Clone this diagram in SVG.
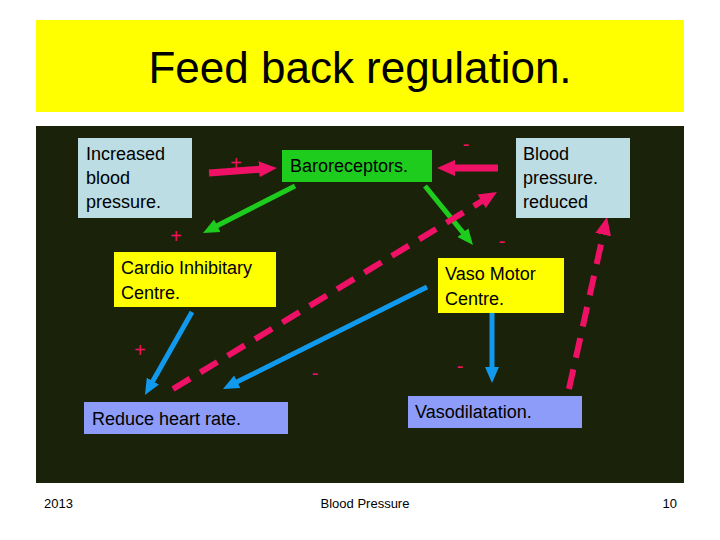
<svg xmlns="http://www.w3.org/2000/svg" width="720" height="540" viewBox="0 0 720 540">
<style>
.t{font-family:"Liberation Sans",Arial,sans-serif;font-size:18px;fill:#000}
.sm{font-family:"Liberation Sans",Arial,sans-serif;font-size:13px;fill:#000}
.sign{font-family:"Liberation Sans",Arial,sans-serif;font-size:20px;fill:#ee1166}
.pk{stroke:#ee1166;stroke-width:6;fill:none}
.dash{stroke-dasharray:20 12}
.gr{stroke:#1ecc1e;stroke-width:5;fill:none}
.bl{stroke:#1199ee;stroke-width:5;fill:none}
</style>
<defs>
<marker id="mp" markerUnits="userSpaceOnUse" markerWidth="18" markerHeight="18" refX="4" refY="9" orient="auto"><path d="M0,1 L18,9 L0,17 z" fill="#ee1166"/></marker>
<marker id="mg" markerUnits="userSpaceOnUse" markerWidth="16" markerHeight="16" refX="4" refY="8" orient="auto"><path d="M0,1 L16,8 L0,15 z" fill="#1ecc1e"/></marker>
<marker id="mb" markerUnits="userSpaceOnUse" markerWidth="16" markerHeight="16" refX="4" refY="8" orient="auto"><path d="M0,1 L16,8 L0,15 z" fill="#1199ee"/></marker>
</defs>
<rect width="720" height="540" fill="#fff"/>
<rect x="36" y="20" width="648" height="92" fill="#ffff00"/>
<text x="360" y="83" text-anchor="middle" style="font-family:'Liberation Sans',Arial,sans-serif;font-size:44px;fill:#000">Feed back regulation.</text>
<rect x="36" y="126" width="648" height="357" fill="#1a2209"/>

<g id="connectors">
<line class="pk" x1="209" y1="173" x2="263" y2="169" marker-end="url(#mp)" style="stroke-width:7"/>
<line class="pk" x1="498" y1="168" x2="451" y2="168" marker-end="url(#mp)" style="stroke-width:7"/>
<line class="gr" x1="295" y1="186" x2="213.7" y2="227.5" marker-end="url(#mg)"/>
<line class="gr" x1="425" y1="186" x2="465.4" y2="235.7" marker-end="url(#mg)"/>
<line class="bl" x1="192" y1="312" x2="150.9" y2="384.6" marker-end="url(#mb)"/>
<line class="bl" x1="427" y1="287" x2="233.7" y2="383.6" marker-end="url(#mb)"/>
<line class="bl" x1="492" y1="313" x2="492" y2="371" marker-end="url(#mb)"/>
<line class="pk dash" x1="173" y1="389" x2="485" y2="199.3" marker-end="url(#mp)"/>
<line class="pk dash" x1="569" y1="389" x2="604" y2="230.7" marker-end="url(#mp)"/>
<text class="sign" x="236" y="170" text-anchor="middle">+</text>
<text class="sign" x="466" y="151" text-anchor="middle">-</text>
<text class="sign" x="176" y="243" text-anchor="middle">+</text>
<text class="sign" x="502" y="248" text-anchor="middle">-</text>
<text class="sign" x="140" y="357" text-anchor="middle">+</text>
<text class="sign" x="315" y="380" text-anchor="middle">-</text>
<text class="sign" x="460" y="373" text-anchor="middle">-</text>
</g>

<g id="increased">
<rect x="78" y="138" width="114" height="80" fill="#bcdde3"/>
<text class="t" x="86" y="160">Increased</text>
<text class="t" x="86" y="184">blood</text>
<text class="t" x="86" y="208">pressure.</text>
</g>
<g id="baroreceptors">
<rect x="282" y="150" width="150" height="32" fill="#1ecc1e"/>
<text class="t" x="290" y="172">Baroreceptors.</text>
</g>
<g id="reduced">
<rect x="516" y="138" width="114" height="80" fill="#bcdde3"/>
<text class="t" x="523" y="160">Blood</text>
<text class="t" x="523" y="184">pressure.</text>
<text class="t" x="523" y="208">reduced</text>
</g>
<g id="cardio">
<rect x="114" y="252" width="162" height="55" fill="#ffff00"/>
<text class="t" x="121" y="274">Cardio Inhibitary</text>
<text class="t" x="121" y="299">Centre.</text>
</g>
<g id="vaso">
<rect x="438" y="258" width="126" height="55" fill="#ffff00"/>
<text class="t" x="445" y="280">Vaso Motor</text>
<text class="t" x="445" y="305">Centre.</text>
</g>
<g id="heart">
<rect x="84" y="402" width="204" height="32" fill="#8c9cf8"/>
<text class="t" x="92" y="425">Reduce heart rate.</text>
</g>
<g id="vasodil">
<rect x="408" y="396" width="174" height="32" fill="#8c9cf8"/>
<text class="t" x="415" y="418">Vasodilatation.</text>
</g>

<text class="sm" x="44" y="508">2013</text>
<text class="sm" x="365" y="508" text-anchor="middle">Blood Pressure</text>
<text class="sm" x="677" y="508" text-anchor="end">10</text>
</svg>
